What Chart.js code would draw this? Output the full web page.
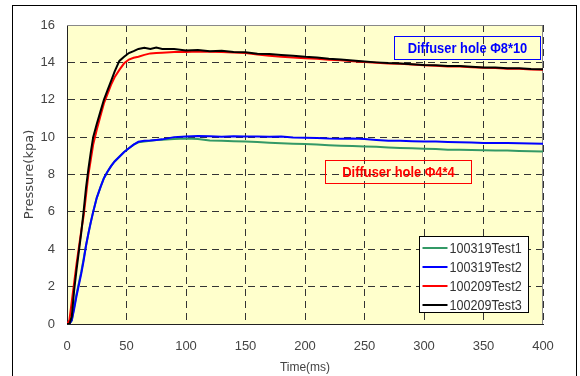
<!DOCTYPE html>
<html>
<head>
<meta charset="utf-8">
<script src="https://cdn.jsdelivr.net/npm/chart.js@4.4.1/dist/chart.umd.min.js"></script>
<style>
  html, body { margin: 0; padding: 0; background: #fff; }
  #wrap { position: relative; width: 580px; height: 376px; overflow: hidden; }
  #frame { position: absolute; left: 12px; top: 5px; width: 565px; height: 390px; border: 1px solid #000; box-sizing: border-box; pointer-events: none; }
  canvas { position: absolute; left: 0; top: 0; }
</style>
</head>
<body>
<div id="wrap">
  <canvas id="chart" width="580" height="376"></canvas>
  <div id="frame"></div>
</div>
<script>
const SANS = "'Liberation Sans', Arial, sans-serif";

// time axis (ms), shared by all runs
const timeMs = [0, 2, 4, 6, 8, 10, 12, 14, 16, 18, 20, 22, 25, 28, 31, 34, 37, 40, 44, 48, 52, 56, 60, 65, 70, 75, 80,
  90, 100, 110, 120, 130, 140, 150, 160, 170, 180, 190, 200, 210, 220, 230, 240, 250, 260, 270, 280, 290, 300,
  310, 320, 330, 340, 350, 360, 370, 380, 390, 400];

// pressure (kpa)
const test100319_1 = [0, 0, 0.2, 0.9, 1.6, 2.2, 2.8, 3.5, 4.2, 4.85, 5.45, 6.0, 6.75, 7.3, 7.8, 8.15, 8.45, 8.7, 8.95, 9.2, 9.4, 9.6, 9.72, 9.76, 9.8, 9.84, 9.86,
  9.9, 9.93, 9.9, 9.82, 9.8, 9.78, 9.76, 9.74, 9.7, 9.67, 9.65, 9.63, 9.6, 9.57, 9.54, 9.52, 9.5, 9.48, 9.45, 9.42, 9.4, 9.38,
  9.36, 9.33, 9.32, 9.31, 9.3, 9.29, 9.28, 9.26, 9.25, 9.23];
const test100319_2 = [0, 0, 0.2, 0.8, 1.5, 2.1, 2.7, 3.4, 4.2, 4.85, 5.45, 6.0, 6.75, 7.3, 7.8, 8.15, 8.45, 8.7, 8.95, 9.2, 9.4, 9.6, 9.75, 9.8, 9.82, 9.85, 9.88,
  10.0, 10.04, 10.06, 10.05, 10.02, 10.05, 10.03, 10.04, 10.02, 10.03, 9.98, 9.96, 9.95, 9.92, 9.91, 9.92, 9.9, 9.85, 9.8, 9.8, 9.78, 9.77,
  9.76, 9.74, 9.73, 9.71, 9.69, 9.68, 9.68, 9.67, 9.66, 9.64];
const test100209_2 = [0, 0.2, 1.2, 2.2, 3.2, 4.1, 5.0, 5.8, 6.9, 8.0, 8.8, 9.6, 10.4, 11.1, 11.8, 12.3, 12.8, 13.2, 13.6, 13.95, 14.15, 14.25, 14.3, 14.4, 14.48, 14.5, 14.52,
  14.55, 14.56, 14.58, 14.57, 14.56, 14.53, 14.5, 14.42, 14.35, 14.3, 14.26, 14.22, 14.2, 14.14, 14.12, 14.06, 14.02, 13.98, 13.94, 13.92, 13.88, 13.84,
  13.82, 13.78, 13.78, 13.74, 13.71, 13.7, 13.66, 13.66, 13.62, 13.61];
const test100209_3 = [0, 0, 0.4, 1.8, 2.9, 3.9, 4.9, 6.05, 7.3, 8.3, 9.2, 10.0, 10.7, 11.35, 12.0, 12.5, 13.0, 13.5, 14.08, 14.3, 14.5, 14.6, 14.72, 14.78, 14.72, 14.8, 14.72,
  14.72, 14.64, 14.66, 14.6, 14.62, 14.56, 14.54, 14.46, 14.45, 14.4, 14.36, 14.3, 14.26, 14.2, 14.16, 14.1, 14.05, 14.0, 13.96, 13.94, 13.9, 13.86,
  13.84, 13.8, 13.8, 13.76, 13.73, 13.72, 13.68, 13.68, 13.64, 13.63];

const seriesNames = ["100319Test1", "100319Test2", "100209Test2", "100209Test3"];
const seriesColors = ["#339966", "#0000ff", "#ff0000", "#000000"];
const seriesValues = [test100319_1, test100319_2, test100209_2, test100209_3];

// boxed notes, in data units (ms, kpa)
const notes = [
  { text: "Diffuser hole \u03A68*10", color: "#0000ff", x0: 275, x1: 397.5, y0: 15.41, y1: 14.18 },
  { text: "Diffuser hole \u03A64*4", color: "#ff0000", x0: 217, x1: 339.5, y0: 8.78, y1: 7.52 },
];

// canvas text squeezed sideways, the original uses a condensed face
function narrowText(ctx, text, x, y, sx) {
  ctx.save();
  ctx.translate(x, y);
  ctx.scale(sx, 1);
  ctx.fillText(text, 0, 0);
  ctx.restore();
}

const plotBg = {
  id: "plotBg",
  beforeDraw(chart) {
    const { ctx, chartArea: a } = chart;
    ctx.save();
    ctx.fillStyle = "#ffffcc";
    ctx.fillRect(a.left, a.top, a.right - a.left, a.bottom - a.top);
    ctx.restore();
  },
  beforeDatasetsDraw(chart) {
    const { ctx, chartArea: a } = chart;
    ctx.save();
    ctx.strokeStyle = "#888";
    ctx.lineWidth = 1;
    ctx.beginPath();
    ctx.moveTo(a.left, a.top + 0.5);
    ctx.lineTo(a.right - 0.5, a.top + 0.5);
    ctx.lineTo(a.right - 0.5, a.bottom);
    ctx.stroke();
    ctx.restore();
  },
};

const noteBoxes = {
  id: "noteBoxes",
  afterDatasetsDraw(chart) {
    const { ctx } = chart;
    const xs = chart.scales.x, ys = chart.scales.y;
    ctx.save();
    for (const n of notes) {
      const l = Math.round(xs.getPixelForValue(n.x0)) + 0.5;
      const r = Math.round(xs.getPixelForValue(n.x1)) + 0.5;
      const t = Math.round(ys.getPixelForValue(n.y0)) + 0.5;
      const b = Math.round(ys.getPixelForValue(n.y1)) + 0.5;
      ctx.strokeStyle = n.color;
      ctx.lineWidth = 1;
      ctx.strokeRect(l, t, r - l, b - t);
      ctx.fillStyle = n.color;
      ctx.font = "bold 15px " + SANS;
      ctx.textAlign = "center";
      ctx.textBaseline = "middle";
      narrowText(ctx, n.text, (l + r) / 2, (t + b) / 2 + 1, 0.86);
    }
    ctx.restore();
  },
};

const boxLegend = {
  id: "boxLegend",
  afterDraw(chart) {
    const { ctx, chartArea: a } = chart;
    const w = 109, h = 76;
    const x0 = a.right - 15 - w + 0.5, y0 = a.bottom - 12 - h + 0.5;
    ctx.save();
    ctx.fillStyle = "#fff";
    ctx.fillRect(x0, y0, w, h);
    ctx.strokeStyle = "#000";
    ctx.lineWidth = 1;
    ctx.strokeRect(x0, y0, w, h);
    ctx.font = "15px " + SANS;
    ctx.textBaseline = "middle";
    ctx.textAlign = "left";
    chart.data.datasets.forEach((ds, i) => {
      const cy = Math.round(y0 + 11 + i * 19);
      ctx.strokeStyle = ds.borderColor;
      ctx.lineWidth = 2;
      ctx.beginPath();
      ctx.moveTo(x0 + 3, cy);
      ctx.lineTo(x0 + 28, cy);
      ctx.stroke();
      ctx.fillStyle = "#333";
      narrowText(ctx, ds.label, x0 + 30, cy + 1, 0.84);
    });
    ctx.restore();
  },
};

const datasets = seriesNames.map((name, i) => ({
  label: name,
  data: timeMs.map((t, k) => ({ x: t, y: seriesValues[i][k] })),
  borderColor: seriesColors[i],
  borderWidth: 2,
  pointRadius: 0,
  tension: 0,
  order: seriesNames.length - i,
}));

new Chart(document.getElementById("chart").getContext("2d"), {
  type: "line",
  data: { datasets },
  options: {
    responsive: false,
    animation: false,
    devicePixelRatio: 1,
    layout: { padding: { left: 0, top: 25, right: 37, bottom: 0 } },
    plugins: { legend: { display: false }, tooltip: { enabled: false } },
    scales: {
      x: {
        type: "linear",
        min: 0,
        max: 400,
        afterFit: (s) => { s.height = 52; },
        ticks: { stepSize: 50, color: "#444", font: { family: SANS, size: 13 }, padding: 15, maxRotation: 0 },
        grid: { color: "#333", lineWidth: 1, drawTicks: false },
        border: { display: true, color: "#222", width: 1, dash: [7, 5] },
        title: { display: true, text: "Time(ms)", color: "#444", font: { family: SANS, size: 12 }, padding: { top: 0, bottom: 1 } },
      },
      y: {
        min: 0,
        max: 16,
        afterFit: (s) => { s.width = 67; },
        ticks: { stepSize: 2, color: "#444", font: { family: SANS, size: 13 }, padding: 12 },
        grid: { color: "#333", lineWidth: 1, drawTicks: false },
        border: { display: true, color: "#222", width: 1, dash: [7, 5] },
        title: { display: true, text: "Pressure(kpa)", color: "#444", font: { family: "'DejaVu Sans', sans-serif", size: 13 }, padding: { top: 22, bottom: 0 } },
      },
    },
  },
  plugins: [plotBg, noteBoxes, boxLegend],
});
</script>
</body>
</html>
